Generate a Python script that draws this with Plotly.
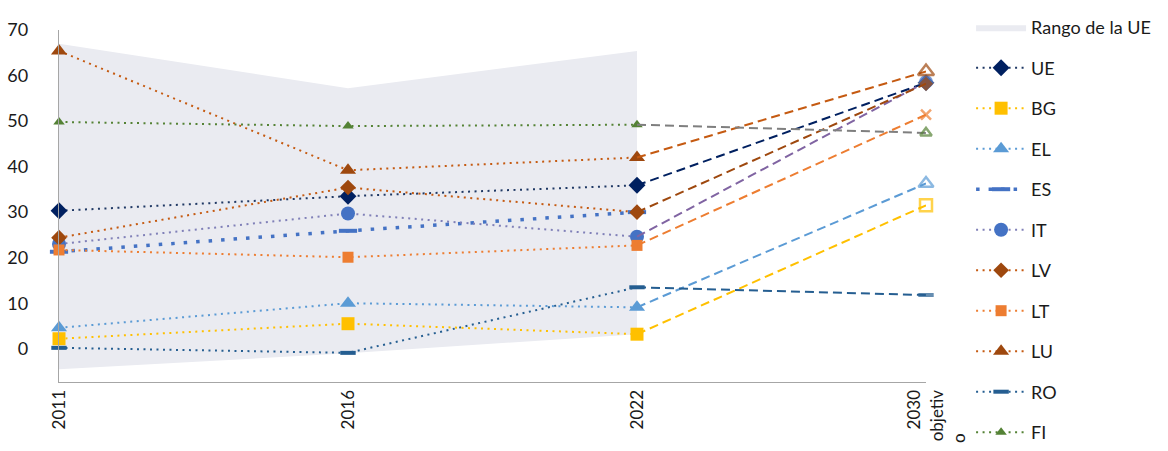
import plotly.graph_objects as go

# Categories on the horizontal axis
years = ["2011", "2016", "2022", "2030 objetivo"]
NB = "&nbsp;"
year_labels = ["2011", "2016", "2022",
               NB + "<br>2030<br>objetiv<br>o" + NB * 10]

# EU range (min / max) for the observed years
rango_max = [67.0, 57.2, 65.4]
rango_min = [-4.5, -1.0, 3.2]

# Series values (last value = 2030 objective)
ue = [30.3, 33.5, 35.9, 58.4]
bg = [2.2, 5.5, 3.2, 31.5]
el = [4.6, 10.0, 9.1, 36.3]
es = [21.3, 25.9, 30.0, None]
it = [23.0, 29.7, 24.6, 58.6]
lv = [24.4, 35.4, 30.0, 58.2]
lt = [21.7, 20.1, 22.7, 51.4]
lu = [65.4, 39.2, 42.0, 60.9]
ro = [0.2, -0.9, 13.5, 11.8]
fi = [49.8, 48.9, 49.2, 47.4]

FONT = "Lato"
DOT = "2px,4.5px"
DASH = "9px,5px"

# name, values, marker symbol, marker colour, marker size, dotted colour,
# dashed colour, target symbol, target size
series = [
    ("UE", ue, "diamond", "#002060", 13, "#1F3864", "#002060", "diamond", 13),
    ("BG", bg, "square", "#FFC000", 13, "#FFC000", "#FFC000", "square-open", 12),
    ("EL", el, "triangle-up", "#5B9BD5", 14, "#5B9BD5", "#5B9BD5", "triangle-up-open", 13),
    ("ES", es, "line-ew", "#4472C4", 13, "#4472C4", "#4472C4", None, 0),
    ("IT", it, "circle", "#4472C4", 14, "#8080B8", "#8064A2", "circle", 14),
    ("LV", lv, "diamond", "#9E480E", 12, "#C55A11", "#9E480E", "diamond", 11),
    ("LT", lt, "square", "#ED7D31", 11, "#ED7D31", "#ED7D31", "x-thin-open", 10),
    ("LU", lu, "triangle-up", "#9E480E", 14, "#C55A11", "#C55A11", "triangle-up-open", 14),
    ("RO", ro, "line-ew", "#255E91", 11, "#255E91", "#255E91", "line-ew", 11),
    ("FI", fi, "triangle-up", "#548235", 10, "#548235", "#7F7F7F", "triangle-up-open", 10),
]

fig = go.Figure()

# Shaded EU range
fig.add_trace(go.Scatter(
    x=years[:3] + years[:3][::-1],
    y=rango_max + rango_min[::-1],
    fill="toself", fillcolor="#EAEBF1",
    line=dict(width=0), mode="lines",
    name="Rango de la UE", legendgroup="rango",
    hoverinfo="skip",
))

for name, vals, sym, mcol, msize, dotcol, dashcol, tsym, tsize in series:
    is_line_marker = sym == "line-ew"
    marker = dict(symbol=sym, color=mcol, size=msize,
                  line=dict(color=mcol, width=4 if is_line_marker else 0))
    width = 3.5 if name == "ES" else 2
    dash = "3.5px,9px" if name == "ES" else DOT
    # observed years: dotted line
    fig.add_trace(go.Scatter(
        x=years[:3], y=vals[:3], mode="lines+markers",
        name=name, legendgroup=name,
        line=dict(color=dotcol, width=width, dash=dash),
        marker=marker, cliponaxis=False,
    ))
    # path to the 2030 objective: dashed line
    if vals[3] is not None:
        tline = 4 if tsym == "line-ew" else (2.5 if "open" in tsym else 0)
        fig.add_trace(go.Scatter(
            x=years[2:], y=vals[2:], mode="lines+markers",
            name=name, legendgroup=name, showlegend=False,
            line=dict(color=dashcol, width=2, dash=DASH),
            marker=dict(symbol=["circle", tsym], size=[0, tsize], color=mcol,
                        line=dict(color=mcol, width=tline)),
            cliponaxis=False,
        ))

fig.update_layout(
    width=1168, height=451,
    margin=dict(l=59, r=239, t=24, b=69),
    paper_bgcolor="white", plot_bgcolor="white",
    font=dict(family=FONT, size=17, color="#1a1a1a"),
    showlegend=True,
    legend=dict(
        x=1.052, y=1.05, xanchor="left", yanchor="top",
        font=dict(family=FONT, size=18, color="#1a1a1a"),
        tracegroupgap=14.1, itemwidth=50, maxheight=1.0,
        bgcolor="rgba(0,0,0,0)",
    ),
    xaxis=dict(
        type="category", categoryorder="array", categoryarray=years,
        range=[0, 3], tickvals=years, ticktext=year_labels,
        tickangle=-90, showgrid=False, zeroline=False,
        showline=True, linecolor="#A6A6A6", linewidth=1.3,
        ticks="", tickfont=dict(size=17), automargin=False,
    ),
    yaxis=dict(
        range=[-7.3, 70], tickvals=list(range(0, 71, 10)),
        showgrid=False, zeroline=False,
        showline=True, linecolor="#A6A6A6", linewidth=1.3,
        ticks="", ticklabelstandoff=26, tickfont=dict(size=18),
        automargin=False,
    ),
)

fig.write_html("out.html")
